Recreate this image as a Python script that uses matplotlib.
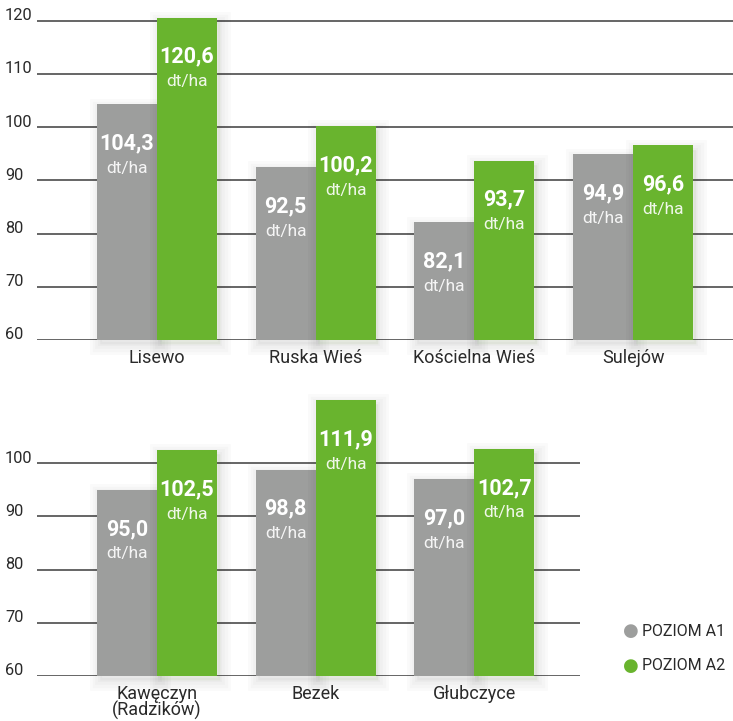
import matplotlib
matplotlib.use("Agg")
import matplotlib.pyplot as plt
import matplotlib.patheffects as pe
import matplotlib.transforms as mtransforms

plt.rcParams['font.family'] = ['Roboto', 'DejaVu Sans']

# ---- data ----
top_categories = ["Lisewo", "Ruska Wieś", "Kościelna Wieś", "Sulejów"]
top_a1 = [104.3, 92.5, 82.1, 94.9]
top_a2 = [120.6, 100.2, 93.7, 96.6]
top_ticks = [60, 70, 80, 90, 100, 110, 120]

bottom_categories = ["Kawęczyn\n(Radzików)", "Bezek", "Głubczyce"]
bottom_a1 = [95.0, 98.8, 97.0]
bottom_a2 = [102.5, 111.9, 102.7]
bottom_ticks = [60, 70, 80, 90, 100]

series_names = ["POZIOM A1", "POZIOM A2"]
unit = "dt/ha"

GRAY = "#9d9e9d"
GREEN = "#69b42e"
TEXT = "#2a2a2a"
GRID = "#3c3c3c"

W, H = 733, 721
fig = plt.figure(figsize=(W / 100, H / 100), dpi=100)

px_unit = 5.317          # pixels per y unit
grp = 158.7              # pixels per group
x0 = 157                 # pixel of first group center
bw = 60 / grp            # bar width in group units


def make_axes(base_px, ymax, right_px):
    left = 37
    bottom = (H - base_px) / H
    height = (ymax - 60) * px_unit / H
    ax = fig.add_axes([left / W, bottom, (right_px - left) / W, height])
    ax.set_xlim((left - x0) / grp, (right_px - x0) / grp)
    ax.set_ylim(60, ymax)
    for s in ax.spines.values():
        s.set_visible(False)
    ax.set_xticks([])
    ax.set_yticks([])
    return ax


shadow = [pe.Stroke(linewidth=lw, foreground="black", alpha=0.018, offset=(2, -3))
          for lw in (3, 7, 11, 15)] + [pe.Normal()]


def draw_panel(ax, cats, a1, a2, ticks):
    trans_lab = mtransforms.blended_transform_factory(fig.transFigure, ax.transData)
    for t in ticks:
        ax.axhline(t, color=GRID, lw=1.1, zorder=1)
        ax.text(5 / W, t + 0.15, str(t), transform=trans_lab, ha="left", va="baseline",
                fontsize=11.8, color=TEXT)
    for i, (c, v1, v2) in enumerate(zip(cats, a1, a2)):
        for v, color, xc in ((v1, GRAY, i - bw / 2), (v2, GREEN, i + bw / 2)):
            b = ax.bar(xc, v - 60, bottom=60, width=bw, color=color, zorder=2,
                       clip_on=False)
            for p in b.patches:
                p.set_path_effects(shadow)
            off = mtransforms.offset_copy(ax.transData, fig=fig, x=0, y=-39 * 0.72, units="points")
            ax.text(xc, v, f"{v:.1f}".replace(".", ","), transform=off,
                    ha="center", va="center", fontsize=15.5, fontweight="bold",
                    color="white", zorder=3)
            off2 = mtransforms.offset_copy(ax.transData, fig=fig, x=0, y=-64 * 0.72, units="points")
            ax.text(xc, v, unit, transform=off2, ha="center", va="center",
                    fontsize=12.5, color="white", alpha=0.9, zorder=3)
        ax.text(i, 60, c, transform=mtransforms.offset_copy(ax.transData, fig=fig, x=0,
                y=-9 * 0.72, units="points"),
                ha="center", va="top", fontsize=13, color=TEXT, linespacing=0.85)


ax_top = make_axes(340, 121, 733)
draw_panel(ax_top, top_categories, top_a1, top_a2, top_ticks)

ax_bot = make_axes(676, 112, 580)
draw_panel(ax_bot, bottom_categories, bottom_a1, bottom_a2, bottom_ticks)

# legend
for name, color, ypx in ((series_names[0], GRAY, 631), (series_names[1], GREEN, 666)):
    fig.text(631 / W, 1 - ypx / H, "●", color=color, fontsize=13, ha="center",
             va="center", family="DejaVu Sans")
    fig.text(642 / W, 1 - ypx / H, name, color=TEXT, fontsize=11.5, ha="left",
             va="center")

fig.savefig("out.png", dpi=100)
